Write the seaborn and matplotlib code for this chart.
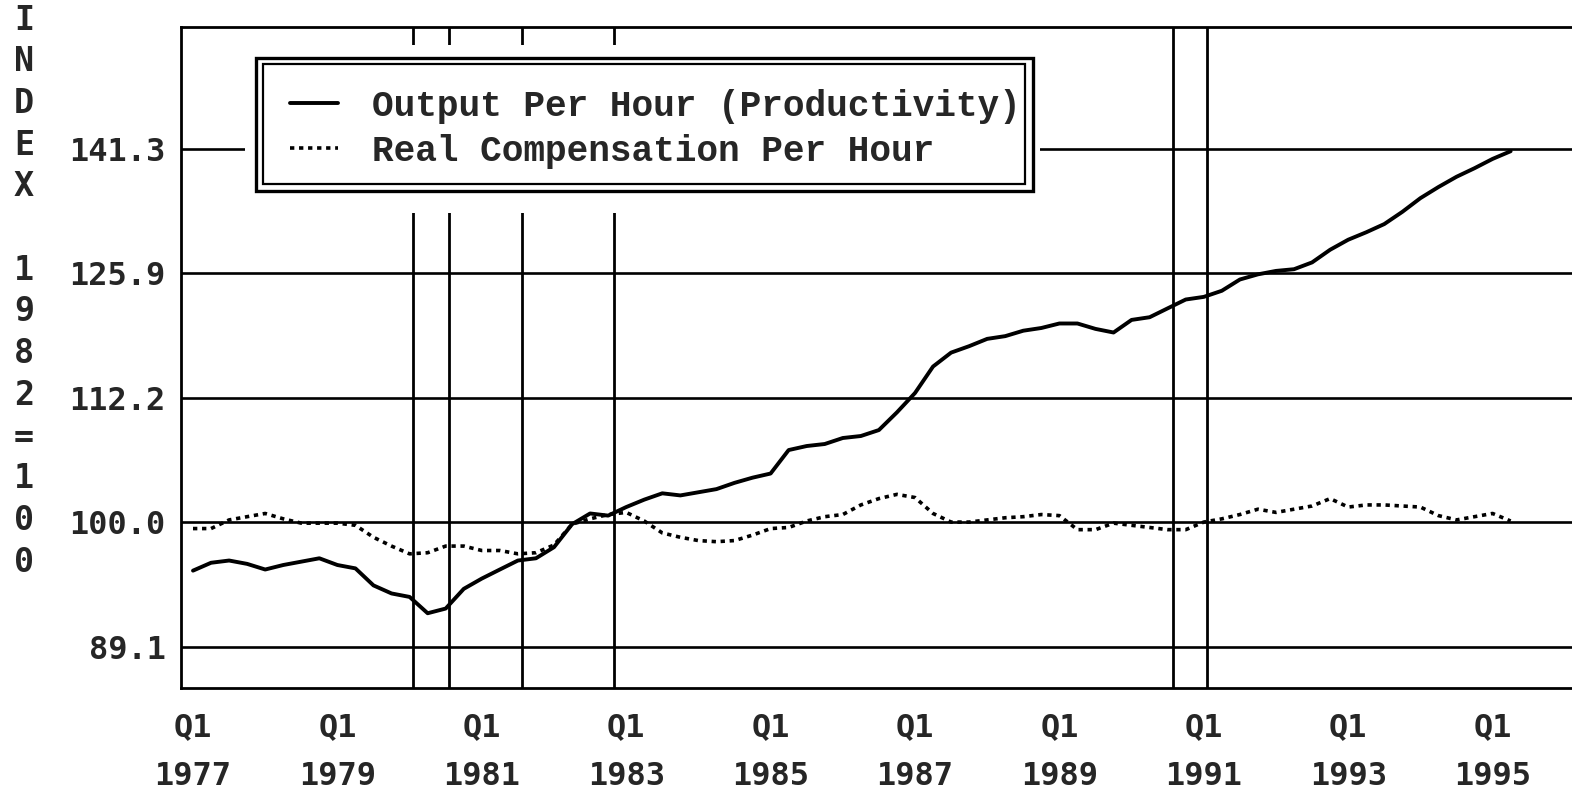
import numpy as np
import pandas as pd
import matplotlib
matplotlib.use("Agg")
import matplotlib.pyplot as plt
import seaborn as sns
from matplotlib import font_manager
from matplotlib.patches import Rectangle
from matplotlib.font_manager import FontProperties

# quarterly index 1982=100 (1977Q1 .. 1995Q2)
quarters = pd.period_range("1977Q1", "1995Q2", freq="Q").astype(str)

output_per_hour = [95.6, 96.3, 96.5, 96.2, 95.7, 96.1, 96.4, 96.7, 96.1, 95.8,
                   94.3, 93.6, 93.3, 91.9, 92.3, 94.0, 94.9, 95.7, 96.5, 96.7,
                   97.7, 99.8, 100.8, 100.6, 101.4, 102.1, 102.7, 102.5, 102.8, 103.1,
                   103.7, 104.2, 104.6, 106.9, 107.3, 107.5, 108.1, 108.3, 108.9, 110.7,
                   112.7, 115.5, 117.0, 117.7, 118.5, 118.8, 119.4, 119.7, 120.2, 120.2,
                   119.6, 119.2, 120.6, 120.9, 121.9, 122.9, 123.2, 123.9, 125.2, 125.8,
                   126.2, 126.4, 127.2, 128.7, 129.9, 130.8, 131.8, 133.3, 135.0, 136.4,
                   137.7, 138.8, 140.0, 141.0]

real_comp_per_hour = [99.4, 99.4, 100.2, 100.5, 100.8, 100.3, 99.9, 99.9, 99.9, 99.7,
                      98.6, 97.8, 97.1, 97.2, 97.8, 97.8, 97.4, 97.4, 97.1, 97.2,
                      97.9, 99.8, 100.3, 100.7, 100.9, 100.1, 99.0, 98.6, 98.3, 98.2,
                      98.3, 98.8, 99.4, 99.5, 100.1, 100.5, 100.7, 101.6, 102.2, 102.6,
                      102.3, 100.8, 100.0, 100.0, 100.2, 100.4, 100.5, 100.7, 100.6, 99.3,
                      99.3, 99.9, 99.7, 99.5, 99.3, 99.3, 100.0, 100.3, 100.7, 101.2,
                      100.9, 101.2, 101.5, 102.2, 101.4, 101.6, 101.6, 101.5, 101.4, 100.6,
                      100.2, 100.5, 100.8, 100.1]

# recession boundaries (quarters since 1977Q1)
recession_lines = [12.2, 14.2, 18.2, 23.3, 54.3, 56.2]

y_ticks = [89.1, 100.0, 112.2, 125.9, 141.3]
tick_years = [1977, 1979, 1981, 1983, 1985, 1987, 1989, 1991, 1993, 1995]
series_labels = ["Output Per Hour (Productivity)", "Real Compensation Per Hour"]
y_title = "INDEX 1982=100"

df = pd.DataFrame({"quarter": quarters,
                   "q": np.arange(len(quarters)),
                   "output": output_per_hour,
                   "comp": real_comp_per_hour})

sns.set_style("white")
names = {f.name for f in font_manager.fontManager.ttflist}
mono = "DejaVu Sans Mono"
leg_font = "Liberation Mono" if "Liberation Mono" in names else mono
if "Liberation Sans Narrow" in names:
    x_font, x_size = "Liberation Sans Narrow", 27
else:
    x_font, x_size = mono, 23
plt.rcParams["font.family"] = [mono, "DejaVu Sans"]
plt.rcParams["font.weight"] = "bold"

W, H = 1572, 789
fig = plt.figure(figsize=(W / 100, H / 100), dpi=100)
ax = fig.add_axes([181 / W, 1 - 688 / H, (W - 181) / W, (688 - 27) / H])

sns.lineplot(data=df, x="q", y="output", ax=ax, color="black", lw=2.8,
             label=series_labels[0], zorder=4)
sns.lineplot(data=df, x="q", y="comp", ax=ax, color="black", lw=2.6,
             linestyle=(0, (1.2, 1.3)), label=series_labels[1], zorder=4)

for r in recession_lines:
    ax.axvline(r, color="black", lw=2.0, zorder=3)

ax.set_yscale("log")
ax.set_ylim(85.75, 158.2)
ax.set_xlim(-0.665, 76.4)
ax.yaxis.set_minor_locator(matplotlib.ticker.NullLocator())
ax.set_yticks(y_ticks)
ax.set_yticklabels([f"{v:.1f}" for v in y_ticks])
ax.yaxis.grid(True, color="black", lw=1.9, zorder=2)
ax.xaxis.grid(False)

xt = np.arange(0, 77, 2)
ax.set_xticks(xt)
lab = {(y - 1977) * 4: f"Q1\n{y}" for y in tick_years}
ax.set_xticklabels([lab.get(t, "") for t in xt])
ax.tick_params(axis="x", direction="out", length=7, width=1.8, pad=10,
               labelsize=x_size)
ax.tick_params(axis="y", direction="out", length=8, width=1.8, pad=3,
               labelsize=23)
for t in ax.get_xticklabels():
    t.set_fontfamily(x_font)
    t.set_fontweight("bold")
    t.set_linespacing(1.75)
    t.set_multialignment("center")

ax.set_xlabel("")
ax.set_ylabel("")
for s in ["left", "top", "bottom"]:
    ax.spines[s].set_linewidth(2.0)
    ax.spines[s].set_color("black")
ax.spines["right"].set_visible(False)

# vertical axis title, one character per row
for i, ch in enumerate(y_title):
    if ch != " ":
        fig.text(24 / W, 1 - (20 + 41.7 * i) / H, ch, ha="center", va="center",
                 fontsize=24, fontweight="bold", family=mono)

# legend: white clearing, double border
ax.add_patch(Rectangle((245 / W, 1 - 213 / H), (1040 - 245) / W, (213 - 45) / H,
                       transform=fig.transFigure, facecolor="white",
                       edgecolor="none", zorder=6, clip_on=False))
ax.add_patch(Rectangle((256 / W, 1 - 191 / H), (1033 - 256) / W, (191 - 58) / H,
                       transform=fig.transFigure, facecolor="none",
                       edgecolor="black", lw=2.4, zorder=7, clip_on=False))
ax.add_patch(Rectangle((263 / W, 1 - 184 / H), (1025 - 263) / W, (184 - 64) / H,
                       transform=fig.transFigure, facecolor="none",
                       edgecolor="black", lw=1.6, zorder=7, clip_on=False))
leg = ax.legend(loc="upper left", bbox_to_anchor=(290 / W, 1 - 89 / H),
                bbox_transform=fig.transFigure, frameon=False, borderpad=0,
                borderaxespad=0, handlelength=1.33, handletextpad=0.95,
                labelspacing=0.28,
                prop=FontProperties(family=leg_font, weight="bold", size=26))
leg.set_zorder(8)

fig.savefig("out.png", dpi=100, facecolor="white")
